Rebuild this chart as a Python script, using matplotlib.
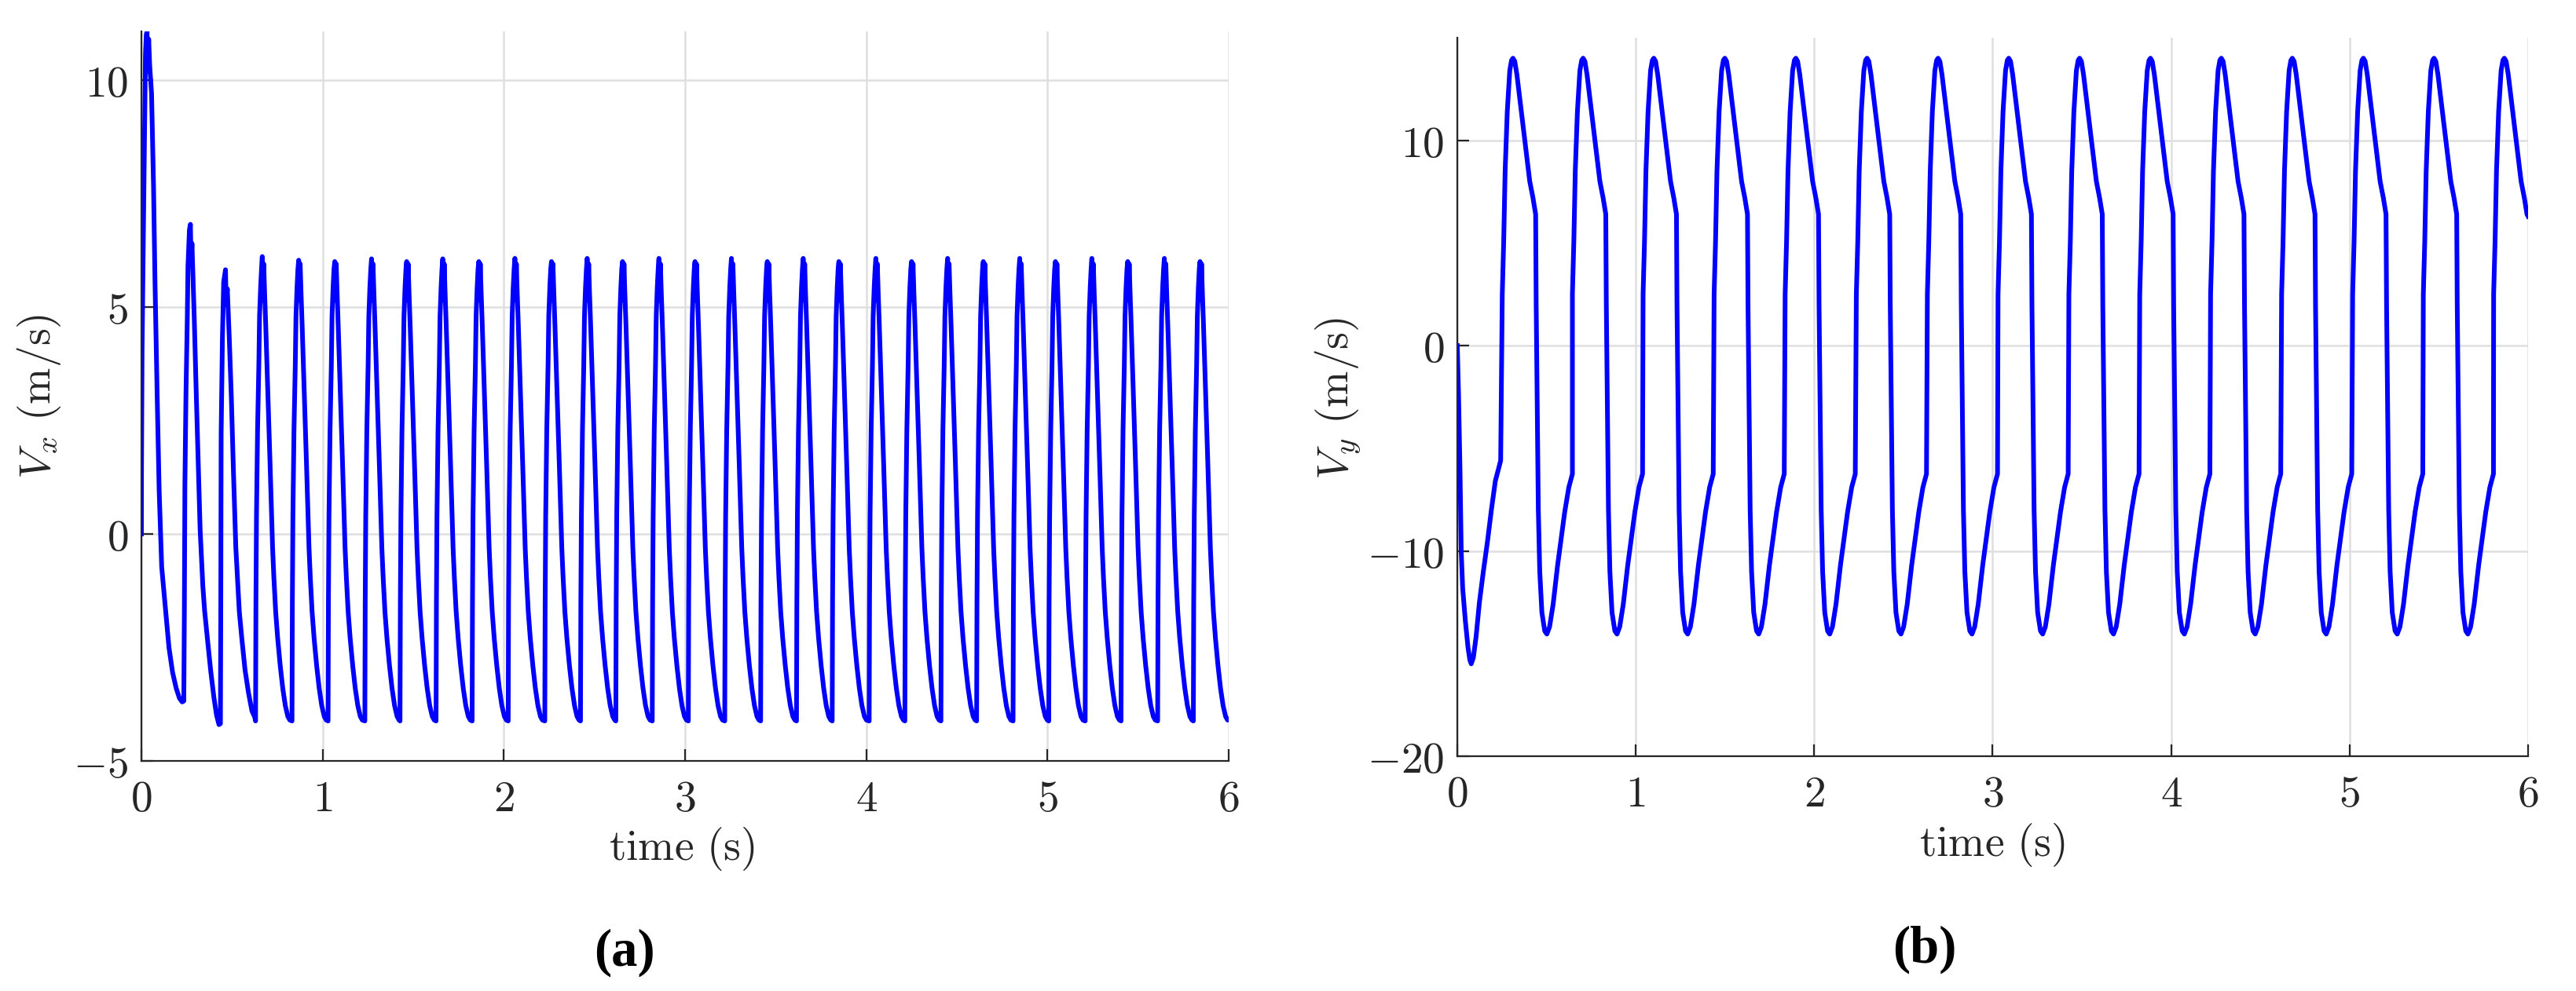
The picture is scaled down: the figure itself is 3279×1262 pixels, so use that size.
import numpy as np
import matplotlib
matplotlib.use("Agg")
import matplotlib.pyplot as plt

# ---------------- data ----------------
# Vx : start-up transient (first three spikes)
vx_start_t = [0.0, 0.0005, 0.0036, 0.0108, 0.018, 0.0224, 0.027, 0.031, 0.035, 0.040, 0.046,
              0.056, 0.067, 0.075, 0.087, 0.098, 0.112, 0.134, 0.152, 0.172, 0.192, 0.210,
              0.225, 0.234, 0.237, 0.240, 0.246, 0.253, 0.257, 0.265, 0.2705, 0.274, 0.279,
              0.292, 0.303, 0.315, 0.324, 0.339, 0.349, 0.364, 0.382, 0.400, 0.415, 0.428,
              0.436, 0.438, 0.440, 0.447, 0.454, 0.464, 0.468, 0.474, 0.485, 0.496, 0.508,
              0.521, 0.540, 0.554, 0.572, 0.591, 0.610, 0.625]
vx_start_v = [0.0, 1.4, 4.0, 6.6, 9.0, 10.57, 11.0, 11.07, 10.2, 10.9, 10.3,
              9.7, 7.64, 5.55, 3.04, 0.95, -0.73, -1.7, -2.5, -3.05, -3.4, -3.62,
              -3.7, -3.68, -1.7, 1.1, 3.1, 4.7, 5.9, 6.7, 6.82, 5.97, 6.4,
              4.7, 3.04, 1.36, 0.1, -1.15, -1.7, -2.3, -3.0, -3.6, -4.0, -4.2,
              -4.18, -1.7, 2.2, 4.3, 5.55, 5.82, 5.05, 5.4, 4.3, 3.04, 1.36,
              -0.3, -1.7, -2.3, -3.0, -3.5, -3.9, -4.03]
# Vx : steady spikes (peak time, peak value)
vx_peak_t = [0.667, 0.868, 1.067, 1.270, 1.464, 1.663, 1.862, 2.061, 2.263, 2.460, 2.655,
             2.856, 3.055, 3.256, 3.454, 3.652, 3.849, 4.053, 4.250, 4.449, 4.646, 4.847,
             5.044, 5.245, 5.443, 5.645, 5.842]
vx_peak_v = [6.11, 6.03, 6.00, 6.06, 6.00, 6.06, 6.00, 6.07, 6.00, 6.07, 6.00,
             6.07, 6.00, 6.07, 6.00, 6.07, 6.00, 6.07, 6.00, 6.07, 6.00, 6.07,
             6.00, 6.07, 6.00, 6.07, 6.00]
# Vx : shape of one steady spike, time relative to its peak (peak entry index 8)
vx_cycle_dt = [-0.037, -0.035, -0.032, -0.026, -0.019, -0.015, -0.009, -0.004, 0.0, 0.004,
               0.008, 0.013, 0.019, 0.027, 0.035, 0.043, 0.050, 0.057, 0.064, 0.074,
               0.085, 0.099, 0.113, 0.127, 0.141, 0.152]
vx_cycle_v = [-4.12, -1.5, 0.4, 2.3, 3.7, 4.8, 5.45, 5.85, 6.0, 5.15,
              5.95, 5.3, 4.6, 3.6, 2.56, 1.54, 0.64, -0.32, -0.96, -1.72,
              -2.3, -2.9, -3.4, -3.78, -4.02, -4.1]
vx_peak_index = 8
vx_end = (6.0, -4.1)

# Vy : start-up transient
vy_start_t = [0.0, 0.007, 0.015, 0.022, 0.030, 0.045, 0.060, 0.070, 0.078, 0.090, 0.105,
              0.124, 0.146, 0.169, 0.191, 0.213, 0.243]
vy_start_v = [0.0, -2.4, -6.0, -10.0, -11.8, -13.4, -14.7, -15.3, -15.5, -15.2, -14.2,
              -12.5, -11.0, -9.55, -8.0, -6.6, -5.6]
# Vy : peak times of the steady oscillation
vy_peak_t = [0.312, 0.705, 1.101, 1.499, 1.897, 2.296, 2.694, 3.090, 3.487, 3.884,
             4.281, 4.679, 5.077, 5.473, 5.867]
# Vy : shape of one cycle, time relative to its peak
vy_cycle_dt = [-0.060, -0.052, -0.044, -0.032, -0.018, -0.008, 0.0, 0.010, 0.022, 0.044,
               0.069, 0.094, 0.112, 0.127, 0.130, 0.136, 0.142, 0.150, 0.162, 0.178,
               0.190, 0.205, 0.225, 0.250, 0.270, 0.290, 0.313, 0.333]
vy_cycle_v = [2.5, 5.07, 8.5, 11.4, 13.4, 13.9, 14.0, 13.85, 13.2, 11.6,
              9.8, 8.0, 7.2, 6.4, 2.0, -3.0, -8.0, -11.0, -13.0, -13.9,
              -14.05, -13.7, -12.6, -10.7, -9.4, -8.1, -6.9, -6.25]
vy_end = (6.0, 6.3)

x_ticks = [0, 1, 2, 3, 4, 5, 6]
x_tick_labels = [r"$0$", r"$1$", r"$2$", r"$3$", r"$4$", r"$5$", r"$6$"]
vx_ticks = [-5, 0, 5, 10]
vx_tick_labels = [r"$-5$", r"$0$", r"$5$", r"$10$"]
vy_ticks = [-20, -10, 0, 10]
vy_tick_labels = [r"$-20$", r"$-10$", r"$0$", r"$10$"]

# ---------------- assemble the two series ----------------
def build_vx():
    t = list(vx_start_t)
    v = list(vx_start_v)
    for tp, vp in zip(vx_peak_t, vx_peak_v):
        for i, (dt, val) in enumerate(zip(vx_cycle_dt, vx_cycle_v)):
            tt = tp + dt
            if tt <= 6.0:
                t.append(tt)
                v.append(vp if i == vx_peak_index else val)
    t.append(vx_end[0]); v.append(vx_end[1])
    return np.array(t), np.array(v)

def build_vy():
    t = list(vy_start_t)
    v = list(vy_start_v)
    for tp in vy_peak_t:
        for dt, val in zip(vy_cycle_dt, vy_cycle_v):
            tt = tp + dt
            if tt <= 5.995:
                t.append(tt)
                v.append(val)
    t.append(vy_end[0]); v.append(vy_end[1])
    return np.array(t), np.array(v)

tx, vx = build_vx()
ty, vy = build_vy()

# ---------------- drawing ----------------
plt.rcParams["mathtext.fontset"] = "cm"
plt.rcParams["font.serif"] = ["Liberation Serif", "DejaVu Serif"]
W, H = 3280, 1262
fig = plt.figure(figsize=(W / 100, H / 100), dpi=100)

axis_col = "#262626"
grid_col = "#dfdfdf"
line_col = (0, 0, 1)
fs = 40
lw = 4.3

def px(x0, y0, x1, y1):
    return [x0 / W, 1 - y1 / H, (x1 - x0) / W, (y1 - y0) / H]

def style(ax, yt, ytl, ylim):
    ax.set_xlim(0, 6)
    ax.set_ylim(*ylim)
    ax.set_xticks(x_ticks, labels=x_tick_labels)
    ax.set_yticks(yt, labels=ytl)
    for s in ("top", "right"):
        ax.spines[s].set_visible(False)
    for s in ("left", "bottom"):
        ax.spines[s].set_color(axis_col)
        ax.spines[s].set_linewidth(1.6)
    ax.tick_params(direction="in", length=11, width=1.6, color=axis_col,
                   labelsize=fs, labelcolor=axis_col)
    ax.tick_params(axis="x", pad=16)
    ax.tick_params(axis="y", pad=12)
    ax.grid(True, color=grid_col, linewidth=1.8)
    ax.set_axisbelow(True)

ax1 = fig.add_axes(px(180, 40, 1564, 969))
ax1.plot(tx, vx, color=line_col, linewidth=lw, solid_joinstyle="round")
style(ax1, vx_ticks, vx_tick_labels, (-5, 11.07))

ax2 = fig.add_axes(px(1855, 48, 3218, 963))
ax2.plot(ty, vy, color=line_col, linewidth=lw, solid_joinstyle="round")
style(ax2, vy_ticks, vy_tick_labels, (-20, 15))

fig.text(868 / W, 1 - 1081 / H, r"$\mathrm{time\ (s)}$", fontsize=fs, color=axis_col,
         ha="center", va="center")
fig.text(2536 / W, 1 - 1076 / H, r"$\mathrm{time\ (s)}$", fontsize=fs, color=axis_col,
         ha="center", va="center")
fig.text(50 / W, 1 - 505 / H, r"$V_x\ \mathrm{(m/s)}$", fontsize=fs, color=axis_col,
         ha="center", va="center", rotation=90)
fig.text(1703 / W, 1 - 507 / H, r"$V_y\ \mathrm{(m/s)}$", fontsize=fs, color=axis_col,
         ha="center", va="center", rotation=90)

fig.text(795 / W, 1 - 1213 / H, "(a)", fontsize=48, fontweight="bold",
         family="serif", ha="center", va="center", color="black")
fig.text(2450 / W, 1 - 1209 / H, "(b)", fontsize=48, fontweight="bold",
         family="serif", ha="center", va="center", color="black")

fig.savefig("out.png", dpi=100, facecolor="white")
